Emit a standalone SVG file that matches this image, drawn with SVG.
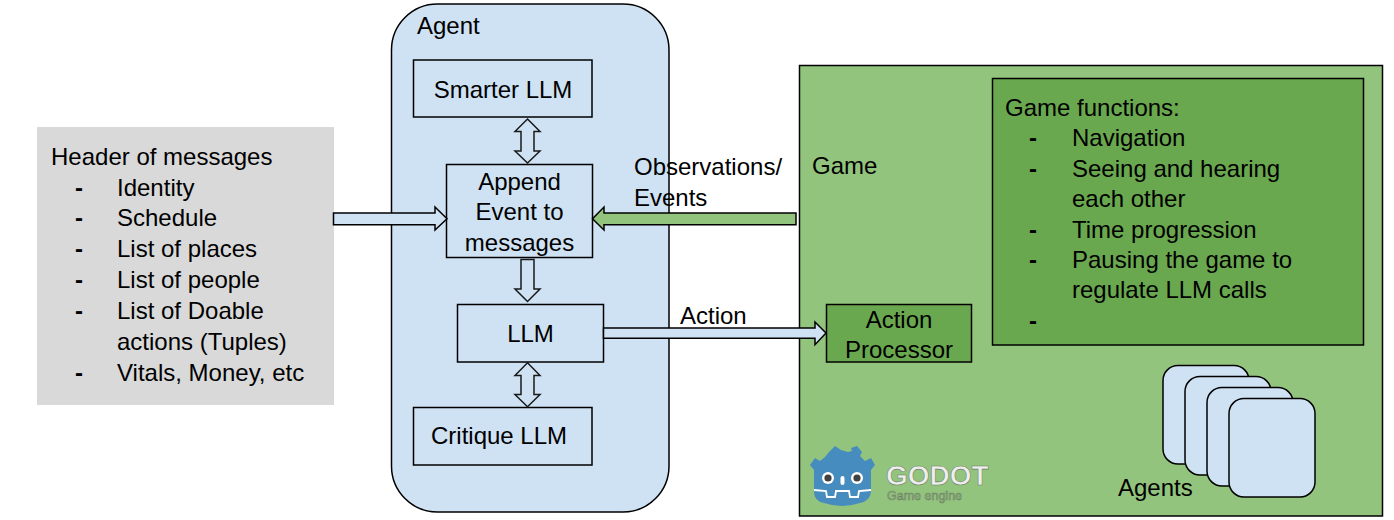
<svg xmlns="http://www.w3.org/2000/svg" width="1394" height="520" viewBox="0 0 1394 520">
<style>
text{font-family:"Liberation Sans",Arial,sans-serif;font-size:24px;fill:#000}
.box{stroke:#000;stroke-width:1.5}
.blue{fill:#cfe2f3}
.mid{fill:#6aa84f}
.arrow{fill:#cfe2f3;stroke:#000;stroke-width:1.5;stroke-linejoin:miter}
.open{fill:#cfe2f3;stroke:#1a1a1a;stroke-width:1.5}
.c{text-anchor:middle}
.d{font-weight:bold}
.wide{font-family:"DejaVu Sans",Verdana,sans-serif;font-size:23px}
</style>
<rect width="1394" height="520" fill="#fff"/>
<g id="header">
<rect x="37" y="127" width="297" height="278" fill="#d9d9d9"/>
<text x="51" y="165">Header of messages</text>
<text class="d" x="75" y="196">-</text><text x="117" y="196">Identity</text>
<text class="d" x="75" y="226">-</text><text x="117" y="226">Schedule</text>
<text class="d" x="75" y="257">-</text><text x="117" y="257">List of places</text>
<text class="d" x="75" y="288">-</text><text x="117" y="288">List of people</text>
<text class="d" x="75" y="319">-</text><text x="117" y="319">List of Doable</text>
<text x="117" y="350">actions (Tuples)</text>
<text class="d" x="75" y="381">-</text><text x="117" y="381">Vitals, Money, etc</text>
</g>
<g id="agent">
<rect class="box blue" x="391.5" y="4" width="277.500" height="508" rx="46"/>
<text x="417" y="34">Agent</text>
</g>
<g id="smarter-llm">
<rect class="box blue" x="413.500" y="60" width="178.500" height="57"/>
<text class="c" x="503" y="98">Smarter LLM</text>
</g>
<g id="append-event">
<rect class="box blue" x="446.500" y="164.500" width="146" height="93"/>
<text class="c" x="519.500" y="190">Append</text>
<text class="c" x="519.500" y="220">Event to</text>
<text class="c" x="519.500" y="251">messages</text>
</g>
<g id="llm">
<rect class="box blue" x="457.500" y="304.500" width="146" height="57.500"/>
<text class="c" x="530.500" y="342">LLM</text>
</g>
<g id="critique-llm">
<rect class="box blue" x="413.500" y="407.500" width="178.500" height="57.500"/>
<text class="c" x="499" y="444">Critique LLM</text>
</g>
<g id="game">
<rect class="box" x="799.500" y="65.500" width="583" height="450.500" fill="#93c47d"/>
<text x="812" y="174">Game</text>
</g>
<g id="game-functions">
<rect class="box mid" x="992.500" y="78.500" width="371" height="266.500"/>
<text x="1005" y="116">Game functions:</text>
<text class="d" x="1029" y="146">-</text><text x="1072" y="146">Navigation</text>
<text class="d" x="1029" y="177">-</text><text x="1072" y="177">Seeing and hearing</text>
<text x="1072" y="207">each other</text>
<text class="d" x="1029" y="238">-</text><text x="1072" y="238">Time progression</text>
<text class="d" x="1029" y="268">-</text><text x="1072" y="268">Pausing the game to</text>
<text x="1072" y="298">regulate LLM calls</text>
<text class="d" x="1029" y="329">-</text>
</g>
<g id="action-processor">
<rect class="box mid" x="826.500" y="304.500" width="145" height="57.500"/>
<text class="c" x="899" y="328">Action</text>
<text class="c" x="899" y="358">Processor</text>
</g>
<g id="agents">
<rect class="box blue" x="1163" y="365.500" width="86" height="98.500" rx="15"/>
<rect class="box blue" x="1185" y="376.500" width="86" height="98.500" rx="15"/>
<rect class="box blue" x="1207" y="387.500" width="86" height="98.500" rx="15"/>
<rect class="box blue" x="1229" y="398.500" width="86" height="98.500" rx="15"/>
<text x="1118" y="496">Agents</text>
</g>
<g id="godot-logo">
<path d="M829 452 L835 446 L841 450 L848 452 L852 451 L851 448 L857 446 L862 452 L860 456 L865 461 L871 458 L875 465 L871 470 L871 492 Q870 501 860 503 Q842 509 824 503 Q814 501 814 492 L814 470 L810 465 L815 458 L820 461 L825 457 Z" fill="#478cbf"/>
<path d="M814 490 L826 491 L827 497 L835 497 L836 491 L849 491 L850 497 L858 497 L859 491 L871 490" fill="none" stroke="#fff" stroke-width="1.800"/>
<circle cx="828" cy="478" r="6" fill="#fff"/><circle cx="828" cy="478" r="3.600" fill="#414042"/>
<circle cx="857" cy="478" r="6" fill="#fff"/><circle cx="857" cy="478" r="3.600" fill="#414042"/>
<rect x="840.500" y="476" width="4" height="9" rx="2" fill="#fff"/>
<text x="886" y="485" style="font-size:28px;font-weight:bold;fill:#eee;stroke:#6d7f63;stroke-width:.6">GODOT</text>
<text x="887" y="500" style="font-size:12.500px;fill:#93c47d;stroke:#6f8268;stroke-width:.6">Game engine</text>
</g>
<g id="connectors">
<polygon class="arrow" points="333.500,213 435,213 435,207 447,218.700 435,230 435,224.700 333.500,224.700"/>
<polygon class="arrow" style="fill:#93c47d" points="796,213 604,213 604,207 592.500,218.700 604,230 604,224.700 796,224.700"/>
<polygon class="open" points="527.500,119 540,131.500 534,131.500 534,151 540,151 527.500,163 515,151 521,151 521,131.500 515,131.500"/>
<polygon class="open" points="521,259.500 534,259.500 534,289 540,289 527.500,301.500 515,289 521,289"/>
<polygon class="open" points="527.500,362.700 540,375.500 534,375.500 534,394.500 540,394.500 527.500,406.700 515,394.500 521,394.500 521,375.500 515,375.500"/>
<polygon class="arrow" points="603.500,328 815,328 815,322 826,333 815,344.700 815,338.300 603.500,338.300"/>
</g>
<g id="labels">
<text x="634" y="175">Observations/</text>
<text x="634" y="206">Events</text>
<text x="680" y="324">Action</text>
</g>
</svg>
